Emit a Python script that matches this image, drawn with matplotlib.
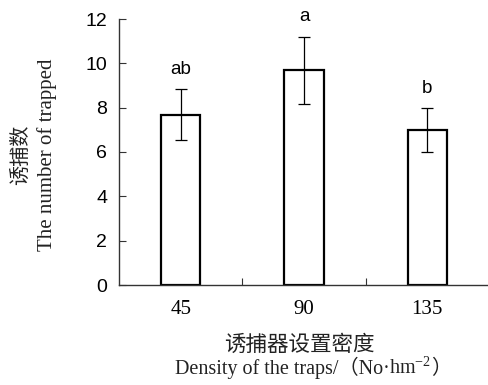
import matplotlib
matplotlib.use("Agg")
import matplotlib.pyplot as plt
from matplotlib.offsetbox import TextArea, HPacker, AnchoredOffsetbox

densities = ['45', '90', '135']
means = [7.67, 9.68, 7.0]
errors = [1.15, 1.53, 1.0]
letters = ['ab', 'a', 'b']

plt.rcParams['mathtext.fontset'] = 'custom'
plt.rcParams['mathtext.rm'] = 'Liberation Serif'
plt.rcParams['mathtext.default'] = 'rm'

serif = ['Liberation Serif', 'Noto Sans CJK SC']
cjk = ['Noto Sans CJK SC', 'Liberation Serif']

fig = plt.figure(figsize=(4.88, 3.85), dpi=100)
ax = fig.add_axes([119 / 488, 1 - 285 / 385, 370 / 488, 266 / 385])

x = range(len(densities))
ax.bar(x, means, width=0.32, color='white', edgecolor='black', linewidth=1.6, zorder=2)
ax.errorbar(x, means, yerr=errors, fmt='none', ecolor='black', elinewidth=0.9,
            capsize=4.5, capthick=0.9, zorder=3)

# significance letters above the error bars
for i, (m, e, lab) in enumerate(zip(means, errors, letters)):
    ax.annotate(lab, (i, m + e), xytext=(0, 8), textcoords='offset points',
                ha='center', va='bottom', fontsize=13.5, family='Liberation Sans')

ax.set_xlim(-0.5, 2.5)
ax.set_ylim(0, 12)
ax.set_yticks(range(0, 13, 2))
ax.set_yticklabels([str(v) for v in range(0, 13, 2)], family='Liberation Sans', fontsize=14)
ax.set_xticks([0.5, 1.5])
ax.set_xticklabels([])
ax.set_xticks(list(x), minor=True)
ax.set_xticklabels(densities, minor=True, family='Liberation Serif', fontsize=15)
ax.tick_params(axis='x', which='minor', length=0, pad=11)
ax.tick_params(axis='x', which='major', direction='in', length=5, width=0.8, color='#333333')
ax.tick_params(axis='y', direction='in', length=5, width=0.8, color='#333333', pad=8.5)

for side in ['top', 'right']:
    ax.spines[side].set_visible(False)
for side in ['left', 'bottom']:
    ax.spines[side].set_linewidth(1.0)
    ax.spines[side].set_color('#333333')

fig.text(20 / 488, 1 - 155 / 385, '诱捕数', rotation=90, ha='center', va='center',
         fontsize=14.5, family=cjk, color='#222222')
fig.text(47 / 488, 1 - 155 / 385, 'The number of trapped', rotation=90, ha='center',
         va='center', fontsize=15, family=serif, color='#222222')
fig.text(299 / 488, 1 - 345 / 385, '诱捕器设置密度', ha='center', va='center',
         fontsize=15.5, family=cjk, color='#222222')

# English x label built from pieces so the unit can carry a superscript
props = dict(fontsize=14.5, family=serif, color='#222222')
parts = [TextArea('Density of the traps/（No·', textprops=props),
         TextArea('hm$^{-2}$', textprops=props),
         TextArea('）', textprops=props)]
row = HPacker(children=parts, align='baseline', pad=0, sep=0)
box = AnchoredOffsetbox(loc='center', child=row, pad=0, borderpad=0, frameon=False,
                        bbox_to_anchor=(313 / 488, 1 - 368 / 385),
                        bbox_transform=fig.transFigure)
fig.add_artist(box)

fig.savefig('out.png', dpi=100)
